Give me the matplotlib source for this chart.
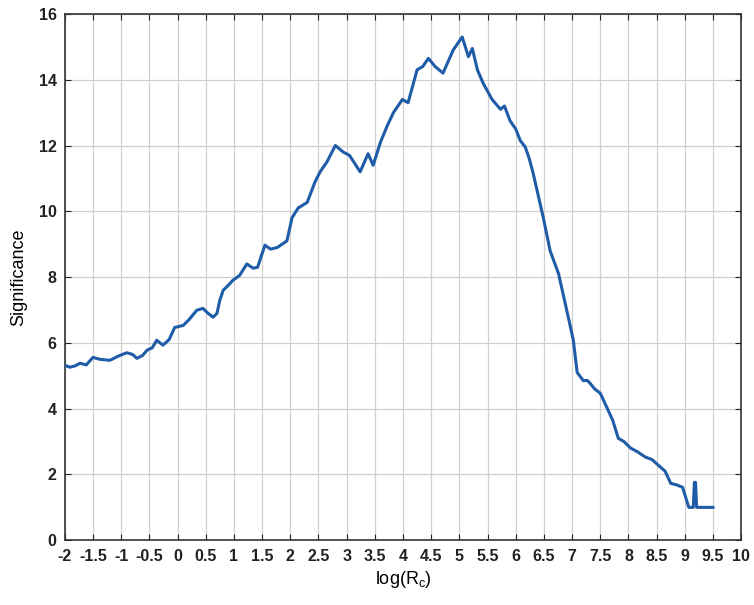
import numpy as np
import matplotlib
matplotlib.use("Agg")
import matplotlib.pyplot as plt

# log(Rc) values and significance
log_rc = [-2.0, -1.91, -1.82, -1.73, -1.62, -1.5, -1.38, -1.2, -1.05, -0.9,
          -0.8, -0.72, -0.62, -0.54, -0.45, -0.37, -0.26, -0.15, -0.05, 0.1,
          0.2, 0.34, 0.45, 0.52, 0.63, 0.7, 0.75, 0.81, 0.9, 0.98,
          1.1, 1.23, 1.34, 1.42, 1.55, 1.65, 1.77, 1.94, 2.03, 2.14,
          2.3, 2.44, 2.53, 2.65, 2.8, 2.94, 3.05, 3.24, 3.38, 3.47,
          3.6, 3.72, 3.83, 3.99, 4.09, 4.25, 4.35, 4.45, 4.57, 4.71,
          4.89, 5.05, 5.16, 5.23, 5.32, 5.42, 5.58, 5.73, 5.8, 5.9,
          6.0, 6.08, 6.17, 6.24, 6.31, 6.35, 6.49, 6.61, 6.76, 6.93,
          7.02, 7.09, 7.2, 7.27, 7.32, 7.4, 7.5, 7.6, 7.72, 7.82,
          7.92, 8.04, 8.15, 8.3, 8.42, 8.53, 8.65, 8.75, 8.86, 8.96,
          9.07, 9.15, 9.17, 9.19, 9.21, 9.3, 9.5]
signif = [5.32, 5.26, 5.3, 5.38, 5.33, 5.56, 5.5, 5.47, 5.6, 5.7,
          5.65, 5.53, 5.62, 5.78, 5.85, 6.08, 5.93, 6.1, 6.47, 6.53,
          6.7, 6.99, 7.05, 6.93, 6.78, 6.9, 7.3, 7.6, 7.75, 7.9,
          8.05, 8.4, 8.27, 8.3, 8.97, 8.85, 8.9, 9.1, 9.8, 10.1,
          10.27, 10.9, 11.2, 11.5, 12.0, 11.8, 11.7, 11.2, 11.75, 11.4,
          12.1, 12.6, 13.0, 13.4, 13.3, 14.3, 14.4, 14.65, 14.4, 14.2,
          14.9, 15.3, 14.7, 14.95, 14.3, 13.9, 13.4, 13.1, 13.2, 12.75,
          12.5, 12.15, 11.95, 11.6, 11.15, 10.85, 9.8, 8.8, 8.1, 6.8,
          6.1, 5.1, 4.85, 4.86, 4.77, 4.6, 4.47, 4.1, 3.65, 3.1,
          3.0, 2.8, 2.7, 2.53, 2.45, 2.28, 2.1, 1.73, 1.68, 1.61,
          1.0, 1.0, 1.76, 1.76, 1.0, 1.0, 1.0]

xticks = np.arange(-2, 10.01, 0.5)
xticklabels = ["%g" % t for t in xticks]
yticks = np.arange(0, 16.01, 2)

plt.rcParams["font.family"] = ["Liberation Sans", "DejaVu Sans"]

fig = plt.figure(figsize=(7.54, 6.05), dpi=100)
ax = fig.add_axes([0.086, 0.107, 0.897, 0.870])

ax.plot(log_rc, signif, color="#1f5ca8", lw=2.2, zorder=3)

ax.set_xlim(-2, 10)
ax.set_ylim(0, 16)
ax.set_xticks(xticks)
ax.set_xticklabels(xticklabels)
ax.set_yticks(yticks)
ax.grid(True, color="#d0d0d0", lw=0.9)
ax.tick_params(direction="in", top=True, right=True, length=4,
               labelsize=11.5, pad=6, colors="#222222")
for lab in ax.get_xticklabels() + ax.get_yticklabels():
    lab.set_fontweight("bold")
for s in ax.spines.values():
    s.set_color("#333333")
    s.set_linewidth(1.2)

ax.set_xlabel("log(R$_\\mathregular{c}$)", fontsize=13, labelpad=4)
ax.set_ylabel("Significance", fontsize=13, labelpad=8)

fig.savefig("out.png", dpi=100)
